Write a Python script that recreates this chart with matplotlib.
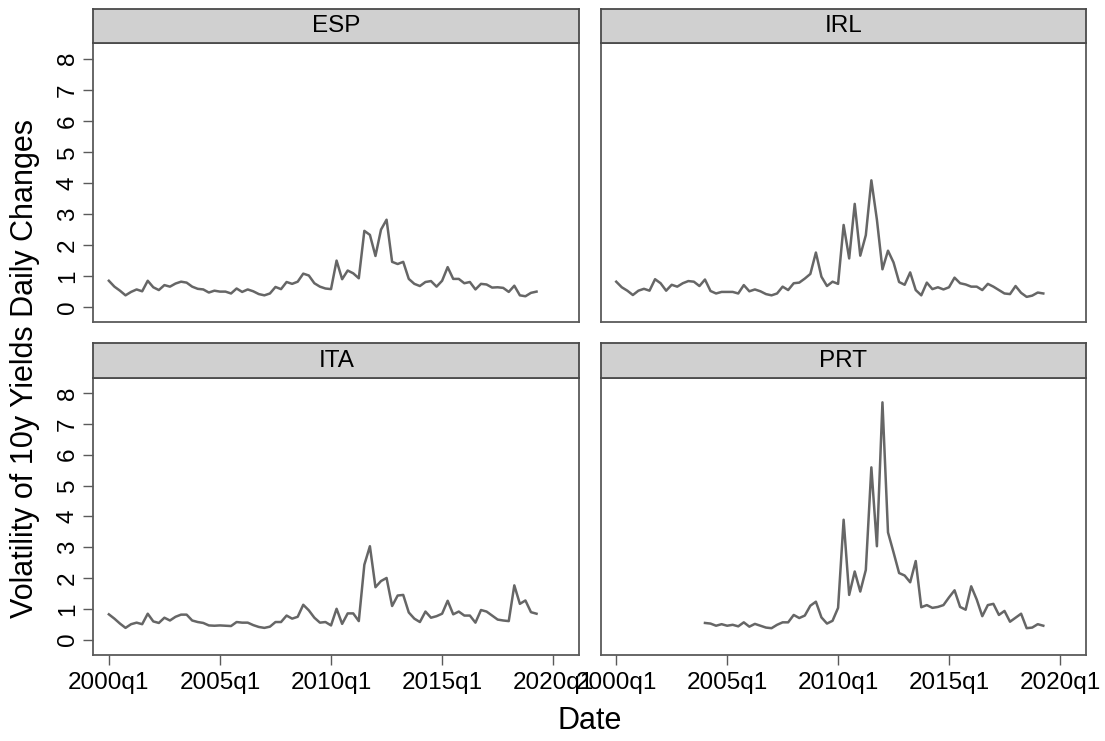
import numpy as np
import matplotlib
matplotlib.use("Agg")
import matplotlib.pyplot as plt

plt.rcParams["font.family"] = ["Liberation Sans", "DejaVu Sans"]

# quarterly volatility of 10y yield daily changes, 2000q1 onward
esp = [0.84, 0.65, 0.52, 0.37, 0.48, 0.56, 0.50, 0.84, 0.63, 0.54,
       0.70, 0.65, 0.75, 0.81, 0.78, 0.65, 0.58, 0.56, 0.46, 0.52,
       0.49, 0.49, 0.43, 0.59, 0.48, 0.56, 0.50, 0.41, 0.37, 0.43,
       0.64, 0.57, 0.80, 0.74, 0.81, 1.07, 1.01, 0.76, 0.65, 0.59,
       0.57, 1.49, 0.89, 1.17, 1.08, 0.92, 2.45, 2.32, 1.64, 2.49,
       2.81, 1.45, 1.38, 1.45, 0.90, 0.74, 0.67, 0.80, 0.83, 0.65,
       0.84, 1.28, 0.90, 0.90, 0.76, 0.80, 0.56, 0.74, 0.72, 0.62,
       0.63, 0.61, 0.48, 0.68, 0.37, 0.34, 0.45, 0.49]
irl = [0.81, 0.63, 0.52, 0.38, 0.52, 0.58, 0.52, 0.89, 0.76, 0.52,
       0.71, 0.65, 0.76, 0.83, 0.81, 0.67, 0.88, 0.51, 0.43, 0.48,
       0.48, 0.48, 0.43, 0.70, 0.50, 0.56, 0.50, 0.41, 0.37, 0.43,
       0.65, 0.54, 0.76, 0.78, 0.91, 1.06, 1.75, 0.97, 0.67, 0.81,
       0.74, 2.64, 1.56, 3.32, 1.65, 2.31, 4.08, 2.81, 1.21, 1.81,
       1.43, 0.80, 0.71, 1.11, 0.54, 0.37, 0.78, 0.57, 0.63, 0.56,
       0.63, 0.94, 0.76, 0.72, 0.65, 0.65, 0.54, 0.74, 0.65, 0.54,
       0.43, 0.41, 0.67, 0.45, 0.32, 0.36, 0.46, 0.43]
ita = [0.82, 0.68, 0.52, 0.38, 0.50, 0.55, 0.50, 0.84, 0.59, 0.54,
       0.71, 0.62, 0.74, 0.81, 0.81, 0.62, 0.57, 0.54, 0.46, 0.45,
       0.46, 0.45, 0.44, 0.57, 0.55, 0.55, 0.47, 0.41, 0.38, 0.42,
       0.57, 0.57, 0.78, 0.68, 0.74, 1.13, 0.95, 0.71, 0.55, 0.57,
       0.46, 1.00, 0.51, 0.85, 0.85, 0.60, 2.43, 3.03, 1.70, 1.90,
       2.00, 1.09, 1.43, 1.45, 0.88, 0.68, 0.57, 0.91, 0.71, 0.76,
       0.84, 1.26, 0.82, 0.91, 0.78, 0.78, 0.55, 0.96, 0.91, 0.78,
       0.65, 0.62, 0.60, 1.76, 1.16, 1.27, 0.89, 0.84]
# Portugal series begins in 2004q1
prt = [0.54, 0.52, 0.45, 0.50, 0.45, 0.48, 0.43, 0.56, 0.42, 0.51,
       0.45, 0.39, 0.37, 0.48, 0.56, 0.56, 0.80, 0.70, 0.78, 1.10,
       1.23, 0.72, 0.52, 0.61, 1.03, 3.89, 1.45, 2.21, 1.56, 2.26,
       5.59, 3.03, 7.70, 3.48, 2.83, 2.16, 2.08, 1.86, 2.55, 1.05,
       1.12, 1.03, 1.06, 1.12, 1.37, 1.60, 1.06, 0.97, 1.73, 1.30,
       0.76, 1.12, 1.16, 0.80, 0.93, 0.58, 0.71, 0.84, 0.37, 0.39,
       0.50, 0.45]

countries = ["ESP", "IRL", "ITA", "PRT"]
series = {"ESP": esp, "IRL": irl, "ITA": ita, "PRT": prt}
start_q = {"ESP": "2000q1", "IRL": "2000q1", "ITA": "2000q1", "PRT": "2004q1"}
tick_labels = ["2000q1", "2005q1", "2010q1", "2015q1", "2020q1"]
y_ticks = [0, 1, 2, 3, 4, 5, 6, 7, 8]


def qnum(s):
    # Stata-style quarterly number: 1960q1 = 0
    y, q = s.split("q")
    return (int(y) - 1960) * 4 + int(q) - 1


W, H = 1105, 741
fig = plt.figure(figsize=(W / 100, H / 100), dpi=100)

LINE = "#666666"
EDGE = "#5a5a5a"

# panel geometry in pixels: (left, right, top, bottom)
cols = [(93.3, 579.3), (600.7, 1086)]
rows = [(43.3, 322.3), (377.7, 655)]
strip_h = 34.3


def px_axes(l, r, t, b):
    return fig.add_axes([l / W, 1 - b / H, (r - l) / W, (b - t) / H])


for i, c in enumerate(countries):
    row, col = divmod(i, 2)
    l, r = cols[col]
    t, b = rows[row]

    ax = px_axes(l, r, t, b)
    vals = series[c]
    x = qnum(start_q[c]) + np.arange(len(vals))
    ax.plot(x, vals, color=LINE, lw=1.8, solid_joinstyle="round")
    ax.set_xlim(157.2, 244.7)
    ax.set_ylim(-0.5, 8.5)
    for sp in ax.spines.values():
        sp.set_color(EDGE)
        sp.set_linewidth(1.3)

    ax.set_xticks([qnum(s) for s in tick_labels])
    if row == 1:
        ax.set_xticklabels(tick_labels, fontsize=17.5)
        ax.tick_params(axis="x", length=7.5, width=1.0, color=EDGE, pad=5)
    else:
        ax.tick_params(axis="x", length=0, labelbottom=False)

    ax.set_yticks(y_ticks)
    if col == 0:
        ax.set_yticklabels([str(v) for v in y_ticks], fontsize=17.5,
                           rotation=90, va="center")
        ax.tick_params(axis="y", length=7.5, width=1.0, color=EDGE, pad=3)
    else:
        ax.tick_params(axis="y", length=0, labelleft=False)

    # facet strip
    sx = px_axes(l, r, t - strip_h, t)
    sx.set_facecolor("#d0d0d0")
    sx.set_xticks([])
    sx.set_yticks([])
    for sp in sx.spines.values():
        sp.set_color("#4a4a4a")
        sp.set_linewidth(1.3)
    sx.text(0.5, 0.5, c, ha="center", va="center", fontsize=17.5,
            transform=sx.transAxes)

fig.text(25 / W, 1 - 368 / H, "Volatility of 10y Yields Daily Changes",
         rotation=90, ha="center", va="center", fontsize=22)
fig.text(589.5 / W, 1 - 721 / H, "Date", ha="center", va="center",
         fontsize=22)

fig.savefig("out.png", dpi=100, facecolor="white")
